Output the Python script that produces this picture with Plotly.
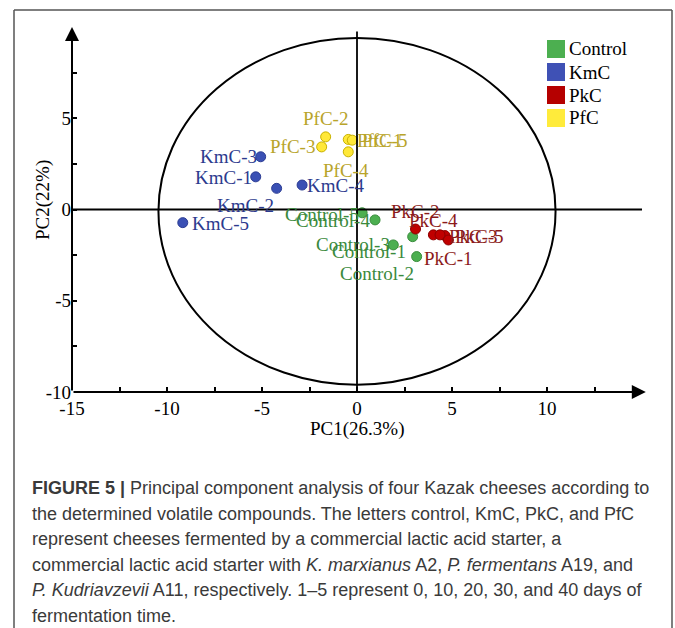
import plotly.graph_objects as go

# PCA scores (PC1, PC2) for each cheese group, samples 1-5
samples = ["1", "2", "3", "4", "5"]
control_pc1 = [2.93, 3.14, 1.91, 0.95, 0.27]
control_pc2 = [-1.49, -2.58, -1.94, -0.57, -0.18]
kmc_pc1 = [-5.33, -4.23, -5.07, -2.89, -9.17]
kmc_pc2 = [1.79, 1.16, 2.89, 1.34, -0.72]
pkc_pc1 = [4.02, 3.08, 4.63, 4.37, 4.81]
pkc_pc2 = [-1.39, -1.07, -1.43, -1.39, -1.67]
pfc_pc1 = [-0.46, -1.65, -1.86, -0.46, -0.25]
pfc_pc2 = [3.84, 3.98, 3.43, 3.16, 3.80]

legend_names = ["Control", "KmC", "PkC", "PfC"]

x_tick_vals = [-15, -12.5, -10, -7.5, -5, -2.5, 0, 2.5, 5, 7.5, 10, 12.5]
x_tick_text = ["-15", "", "-10", "", "-5", "", "0", "", "5", "", "10", ""]
y_tick_vals = [-10, -7.5, -5, -2.5, 0, 2.5, 5, 7.5]
y_tick_text = ["-10", "", "-5", "", "0", "", "5", ""]

# confidence ellipse
ellipse_x = (-10.45, 10.45)
ellipse_y = (-9.6, 9.4)

W, H = 675, 628
ML, MR, MT, MB = 72, 33, 27, 236
PW, PH = W - ML - MR, H - MT - MB


def px(xp):
    return (xp - ML) / PW


def py(yp):
    return (H - MB - yp) / PH


SERIF = "Liberation Serif, Times New Roman, serif"

groups = {
    # pc1, pc2, fill, outline, label colour, legend colour
    "Control": (control_pc1, control_pc2, "#4caf50", "#3b8e3e", "#3a8a3c", "#4caf50"),
    "KmC": (kmc_pc1, kmc_pc2, "#3a50b4", "#2c3d94", "#2c3a8e", "#3f51b5"),
    "PfC": (pfc_pc1, pfc_pc2, "#ffe838", "#c9b200", "#b8a42a", "#ffeb3b"),
    "PkC": (pkc_pc1, pkc_pc2, "#c00000", "#8c0000", "#8b1a1a", "#b50000"),
}
draw_order = ["Control", "KmC", "PfC", "PkC"]

# label placement (screen px: dx right, dy down) relative to each point
label_offsets = {
    "Control": [(-43.5, 15), (-40, 16.6), (-40, 0), (-42, 0.7), (-39.7, 2.2)],
    "KmC": [(-32.4, 0.8), (-31.2, 17.4), (-31.7, 0), (33.5, 0), (37.8, 0.6)],
    "PfC": [(31, 0.7), (-0.4, -18.7), (-29.2, 0), (-2, 19.1), (32.2, 0.5)],
    "PkC": [(15, 23.3), (-0.5, -17.3), (28.3, 1), (-6.2, -14.2), (30.7, -3)],
}

fig = go.Figure()

annotations = []
for name in draw_order:
    xs, ys, fill, outline, lab_col, _ = groups[name]
    fig.add_trace(go.Scatter(
        x=xs, y=ys, mode="markers", showlegend=False, name=name,
        marker=dict(size=10, color=fill, line=dict(color=outline, width=1)),
        cliponaxis=False,
    ))
    for i, s in enumerate(samples):
        dx, dy = label_offsets[name][i]
        annotations.append(dict(
            x=xs[i], y=ys[i], xref="x", yref="y", text=f"{name}-{s}",
            showarrow=False, xshift=dx, yshift=-dy,
            font=dict(family=SERIF, size=19, color=lab_col),
        ))

shapes = [
    dict(type="circle", xref="x", yref="y",
         x0=ellipse_x[0], x1=ellipse_x[1], y0=ellipse_y[0], y1=ellipse_y[1],
         line=dict(color="black", width=2)),
    dict(type="line", xref="x", yref="y", x0=-15, x1=15, y0=0, y1=0,
         line=dict(color="black", width=1.8)),
    dict(type="line", xref="x", yref="y", x0=0, x1=0, y0=-10, y1=9.75,
         line=dict(color="black", width=1.8)),
    # figure frame
    dict(type="line", xref="paper", yref="paper", x0=px(14), x1=px(672), y0=py(10), y1=py(10),
         line=dict(color="#555555", width=1.5)),
    dict(type="line", xref="paper", yref="paper", x0=px(14), x1=px(14), y0=py(10), y1=py(628),
         line=dict(color="#555555", width=1.5)),
    dict(type="line", xref="paper", yref="paper", x0=px(672), x1=px(672), y0=py(10), y1=py(628),
         line=dict(color="#555555", width=1.5)),
]

# legend: square swatches with labels
for k, name in enumerate(legend_names):
    cy = 49 + 23 * k
    shapes.append(dict(type="rect", xref="paper", yref="paper",
                       x0=px(547), x1=px(565), y0=py(cy - 9), y1=py(cy + 9),
                       fillcolor=groups[name][5], line=dict(width=0)))
    annotations.append(dict(x=px(567), y=py(cy), xref="paper", yref="paper", text=name,
                            showarrow=False, xanchor="left", yanchor="middle",
                            font=dict(family=SERIF, size=19, color="black")))

# axes with arrow heads, axis titles
annotations += [
    dict(x=15.2, y=-10, ax=-15, ay=-10, xref="x", yref="y", axref="x", ayref="y",
         text="", showarrow=True, arrowhead=2, arrowsize=1.4, arrowwidth=2, arrowcolor="black",
         standoff=0, startstandoff=0),
    dict(x=-15, y=10, ax=-15, ay=-10, xref="x", yref="y", axref="x", ayref="y",
         text="", showarrow=True, arrowhead=2, arrowsize=1.4, arrowwidth=2, arrowcolor="black",
         standoff=0, startstandoff=0),
    dict(x=px(357), y=py(429), xref="paper", yref="paper", text="PC1(26.3%)", showarrow=False,
         xanchor="center", yanchor="middle",
         font=dict(family=SERIF, size=19, color="black")),
    dict(x=px(43), y=py(200), xref="paper", yref="paper", text="PC2(22%)", showarrow=False,
         xanchor="center", yanchor="middle",
         textangle=-90, font=dict(family=SERIF, size=19, color="black")),
]

caption = [
    "<b>FIGURE 5 |</b> Principal component analysis of four Kazak cheeses according to",
    "the determined volatile compounds. The letters control, KmC, PkC, and PfC",
    "represent cheeses fermented by a commercial lactic acid starter, a",
    "commercial lactic acid starter with <i>K. marxianus</i> A2, <i>P. fermentans</i> A19, and",
    "<i>P. Kudriavzevii</i> A11, respectively. 1–5 represent 0, 10, 20, 30, and 40 days of",
    "fermentation time.",
]
for k, line in enumerate(caption):
    annotations.append(dict(
        x=px(30), y=py(488 + 25.6 * k), xref="paper", yref="paper", text=line,
        showarrow=False, xanchor="left", yanchor="middle", align="left",
        font=dict(family="Liberation Sans Narrow, Arial Narrow, Liberation Sans, sans-serif",
                  size=18, color="#3a3a3a"),
    ))

axis_common = dict(
    showgrid=False, zeroline=False, showline=False, ticks="inside", ticklen=5,
    tickwidth=1.5, tickcolor="black", tickfont=dict(family=SERIF, size=19, color="black"),
)

fig.update_layout(
    width=W, height=H,
    margin=dict(l=ML, r=MR, t=MT, b=MB),
    paper_bgcolor="white", plot_bgcolor="white",
    xaxis=dict(range=[-15, 15], tickvals=x_tick_vals, ticktext=x_tick_text,
               ticklabelstandoff=3, **axis_common),
    yaxis=dict(range=[-10, 10], tickvals=y_tick_vals, ticktext=y_tick_text, **axis_common),
    shapes=shapes,
    annotations=annotations,
    showlegend=False,
)

fig.write_html("out.html")
